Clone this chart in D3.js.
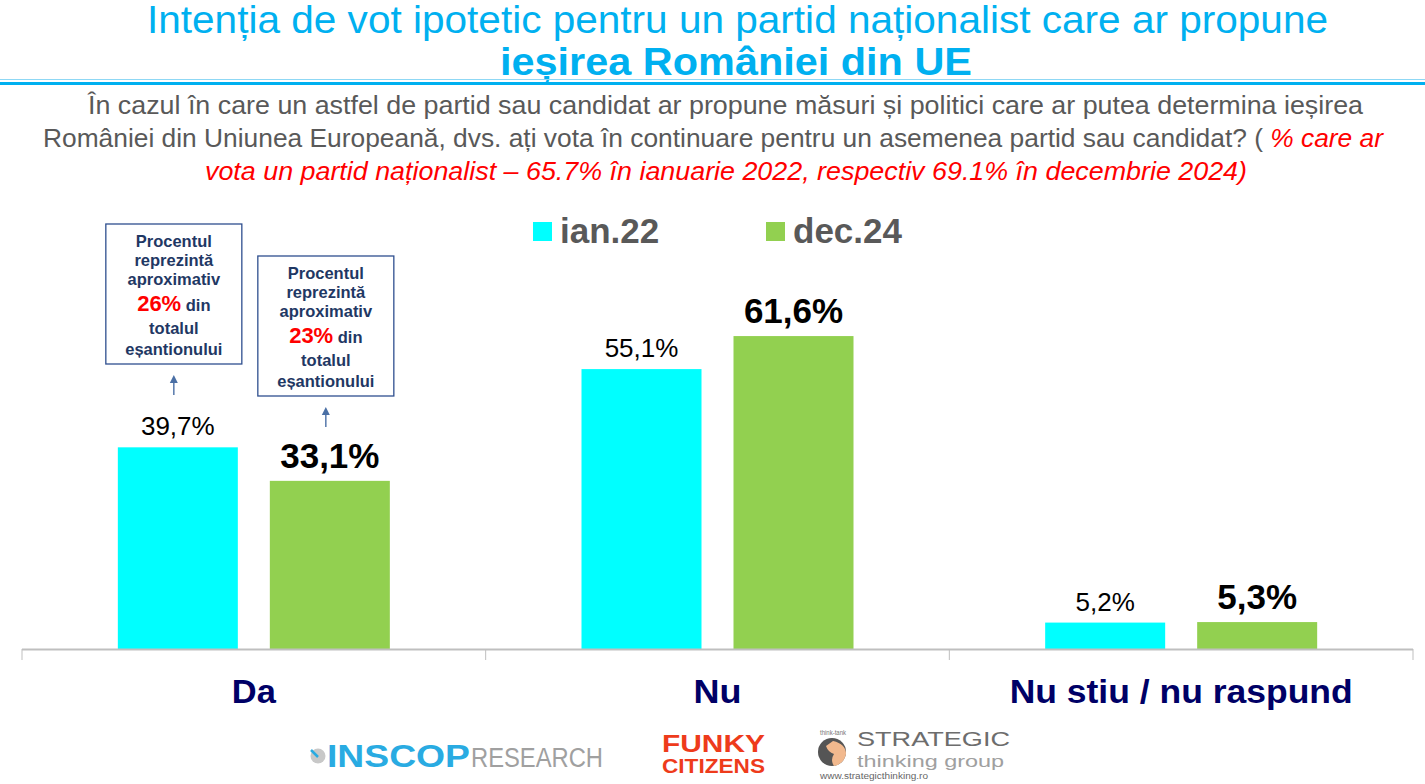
<!DOCTYPE html>
<html><head><meta charset="utf-8">
<script src="https://cdn.jsdelivr.net/npm/d3@7"></script>
<style>body{margin:0;background:#fff}svg{display:block}text{font-family:"Liberation Sans",Arial,sans-serif}</style>
</head><body>
<svg id="c" width="1425" height="784"></svg>
<script>
const categories = ["Da", "Nu", "Nu stiu / nu raspund"];
const seriesNames = ["ian.22", "dec.24"];
const ian22 = [39.7, 55.1, 5.2];
const dec24 = [33.1, 61.6, 5.3];
const seriesColors = ["#00FFFF", "#92D050"];
const annotationPct = ["26%", "23%"];

const svg = d3.select("#c");
const fmt = v => d3.format(".1f")(v).replace(".", ",") + "%";

function fitText(sel, len){ sel.attr("textLength", len).attr("lengthAdjust","spacingAndGlyphs"); return sel; }

// Title
fitText(svg.append("text").attr("x",147).attr("y",33).attr("font-size",38).attr("fill","#00B0F0")
  .text("Intenția de vot ipotetic pentru un partid naționalist care ar propune"), 1181);
fitText(svg.append("text").attr("x",500).attr("y",75).attr("font-size",38).attr("font-weight","bold").attr("fill","#00B0F0")
  .text("ieșirea României din UE"), 472);
svg.append("rect").attr("x",0).attr("y",79).attr("width",1425).attr("height",1).attr("fill","#8FD8F5");
svg.append("rect").attr("x",0).attr("y",82).attr("width",1425).attr("height",3).attr("fill","#00B0F0");

// Subtitle
fitText(svg.append("text").attr("x",88).attr("y",114).attr("font-size",25).attr("fill","#595959")
  .text("În cazul în care un astfel de partid sau candidat ar propune măsuri și politici care ar putea determina ieșirea"), 1275);
const l2 = svg.append("text").attr("x",43).attr("y",147).attr("font-size",25).attr("fill","#595959");
l2.append("tspan").text("României din Uniunea Europeană, dvs. ați vota în continuare pentru un asemenea partid sau candidat? ( ");
l2.append("tspan").attr("fill","#FF0000").attr("font-style","italic").text("% care ar");
fitText(l2, 1340);
fitText(svg.append("text").attr("x",205).attr("y",180).attr("font-size",25).attr("fill","#FF0000").attr("font-style","italic")
  .text("vota un partid naționalist – 65.7% în ianuarie 2022, respectiv 69.1% în decembrie 2024)"), 1042);

// Scales
const x0 = d3.scaleBand().domain(categories).range([22, 1413]).paddingInner(0).paddingOuter(0);
const x1 = d3.scaleBand().domain(seriesNames).range([0, 272]).paddingInner(32/152).paddingOuter(0);
const y = d3.scaleLinear().domain([0, 100]).range([649, 141]);

const rows = categories.map((c,i)=>({cat:c, vals:[ian22[i], dec24[i]]}));

// Bars
const g = svg.append("g");
rows.forEach(r=>{
  const gx = x0(r.cat) + x0.bandwidth()/2 - 136;
  r.vals.forEach((v,j)=>{
    const s = seriesNames[j];
    g.append("rect").attr("x", gx + x1(s)).attr("y", y(v)).attr("width", x1.bandwidth())
      .attr("height", y(0)-y(v)).attr("fill", seriesColors[j]);
    const t = g.append("text").attr("x", gx + x1(s) + x1.bandwidth()/2).attr("text-anchor","middle").attr("fill","#000");
    if(j===0){ t.attr("y", y(v)-12).attr("font-size",26).text(fmt(v)); }
    else { t.attr("y", y(v)-13).attr("font-size",35).attr("font-weight","bold").text(fmt(v)); }
  });
});

// Axis
svg.append("line").attr("x1",22).attr("x2",1413).attr("y1",649.5).attr("y2",649.5).attr("stroke","#BFBFBF").attr("stroke-width",2);
const bounds = categories.map(c=>x0(c)).concat([x0.range()[1]]);
bounds.forEach(b=>svg.append("line").attr("x1",b).attr("x2",b).attr("y1",649).attr("y2",660).attr("stroke","#BFBFBF").attr("stroke-width",1));
const catWidths = [44, 48, 343];
categories.forEach((c,i)=>{
  fitText(svg.append("text").attr("x", x0(c)+x0.bandwidth()/2 - catWidths[i]/2).attr("y",703)
    .attr("font-size",33).attr("font-weight","bold").attr("fill","#000066").text(c), catWidths[i]);
});

// Legend
seriesNames.forEach((s,j)=>{
  const lx = [533, 766][j];
  svg.append("rect").attr("x",lx).attr("y",222).attr("width",19).attr("height",19).attr("fill",seriesColors[j]);
  svg.append("text").attr("x",lx+27).attr("y",243).attr("font-size",35).attr("font-weight","bold").attr("fill","#595959").text(s);
});

// Annotation boxes for "Da"
const daX = x0("Da") + x0.bandwidth()/2 - 136;
[0,1].forEach(j=>{
  const cx = daX + x1(seriesNames[j]) + x1.bandwidth()/2 - 4;
  const top = [224, 256][j];
  svg.append("rect").attr("x",cx-68).attr("y",top).attr("width",136).attr("height",140)
    .attr("fill","#fff").attr("stroke","#2F4F8F").attr("stroke-width",1.3);
  const lines = ["Procentul","reprezintă","aproximativ",null,"totalul","eșantionului"];
  const ys = [23,42,61,87,110,131];
  lines.forEach((l,i)=>{
    const t = svg.append("text").attr("x",cx).attr("y",top+ys[i]).attr("text-anchor","middle")
      .attr("font-size",16.5).attr("font-weight","bold").attr("fill","#1F3864");
    if(l===null){
      t.append("tspan").attr("fill","#FF0000").attr("font-size",22).text(annotationPct[j]);
      t.append("tspan").text(" din");
    } else t.text(l);
  });
  // arrow
  const ay1 = top+140+31, ay0 = top+140+11;
  svg.append("line").attr("x1",cx).attr("x2",cx).attr("y1",ay1).attr("y2",ay0+5).attr("stroke","#4A6FA5").attr("stroke-width",1.4);
  svg.append("path").attr("d",`M${cx-4},${ay0+8}L${cx},${ay0}L${cx+4},${ay0+8}Z`).attr("fill","#4A6FA5");
});

// Logos
const lg = svg.append("g");
lg.append("circle").attr("cx",318).attr("cy",756).attr("r",7.5).attr("fill","#C8C8C8");
lg.append("path").attr("d","M311,750 L318,757").attr("stroke","#29ABE2").attr("stroke-width",2.5);
fitText(lg.append("text").attr("x",327).attr("y",767).attr("font-size",31).attr("font-weight","bold").attr("fill","#29ABE2").text("INSCOP"),143);
fitText(lg.append("text").attr("x",471).attr("y",767).attr("font-size",27).attr("fill","#A0A0A0").text("RESEARCH"),132);
fitText(lg.append("text").attr("x",662).attr("y",752).attr("font-size",24).attr("font-weight","bold").attr("fill","#EE3B1B").text("FUNKY"),103);
fitText(lg.append("text").attr("x",662).attr("y",773).attr("font-size",20).attr("font-weight","bold").attr("fill","#EE3B1B").text("CITIZENS"),103);
lg.append("circle").attr("cx",832).attr("cy",752).attr("r",14).attr("fill","#555");
lg.append("path").attr("d","M833,741 Q846,744 846,754 Q844,764 834,766 Q830,760 834,754 Q828,752 826,746 Z").attr("fill","#F2B98E");
fitText(lg.append("text").attr("x",820).attr("y",735).attr("font-size",7).attr("fill","#777").text("think-tank"),26);
fitText(lg.append("text").attr("x",857).attr("y",746).attr("font-size",21).attr("fill","#6D6D6D").text("STRATEGIC"),153);
fitText(lg.append("text").attr("x",857).attr("y",767).attr("font-size",16).attr("fill","#A0A0A0").text("thinking group"),147);
fitText(lg.append("text").attr("x",820).attr("y",779).attr("font-size",8.5).attr("fill","#666").text("www.strategicthinking.ro"),108);
</script>
</body></html>
